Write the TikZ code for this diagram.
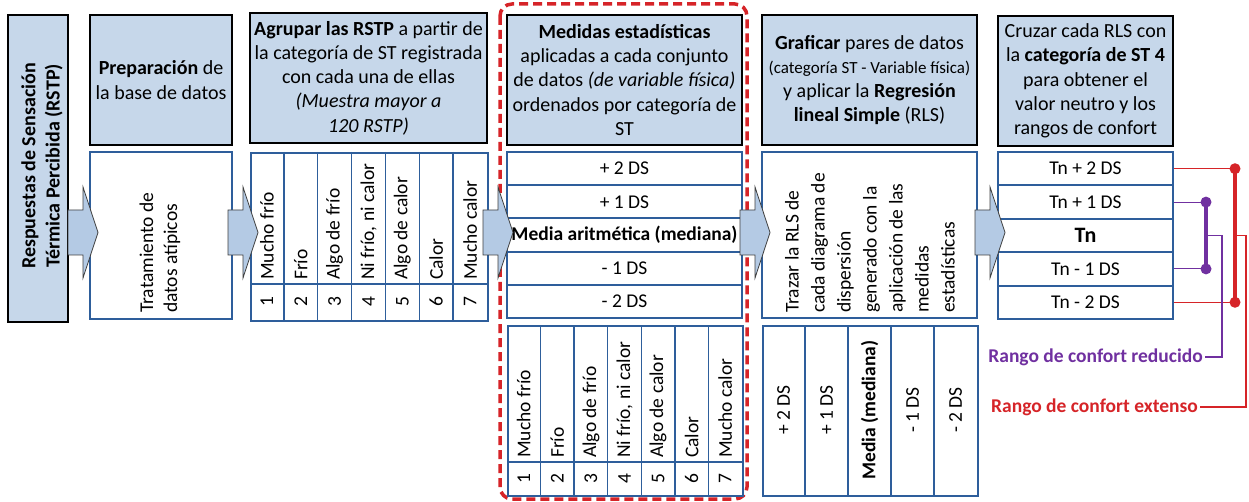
\documentclass[tikz,border=0pt]{standalone}
\usepackage{fontspec}
\setmainfont{Carlito}
\usetikzlibrary{calc}
\definecolor{hdrblue}{RGB}{198,215,234}
\definecolor{tblue}{RGB}{46,94,155}
\definecolor{dred}{RGB}{214,36,40}
\definecolor{cpurple}{RGB}{112,48,160}
\definecolor{arrowfill}{RGB}{180,202,228}
\newcommand\mainfs{\fontsize{19.5}{24}\selectfont}
\newcommand\hdrfs{\fontsize{20}{24.3}\selectfont}
\tikzset{
  hdr/.style={draw=black, line width=2.6pt, fill=hdrblue},
  tbox/.style={draw=tblue, line width=2pt, fill=white},
  tline/.style={draw=tblue, line width=1.4pt},
  txt/.style={font=\mainfs, align=center, inner sep=0pt},
  htxt/.style={font=\hdrfs, align=center, inner sep=0pt},
  vtxt/.style={font=\mainfs, rotate=90, anchor=west, inner sep=0pt, align=left},
  blockarr/.style={draw=black!75, line width=0.8pt, fill=arrowfill},
  reddash/.style={draw=dred, line width=3.5pt, dash pattern=on 9pt off 5pt, rounded corners=12pt},
  redthin/.style={draw=dred, line width=1.2pt},
  redthick/.style={draw=dred, line width=4pt},
  purthin/.style={draw=cpurple, line width=1.1pt},
  purthick/.style={draw=cpurple, line width=4pt},
}
\begin{document}
\begin{tikzpicture}[x=1pt,y=-1pt]
\useasboundingbox (0,0) rectangle (1249,502);
\fill[white] (0,0) rectangle (1249,502);

% red dashed frame
\draw[reddash] (500,4) rectangle (747,499);

% column 1
\node[hdr, minimum width=60, minimum height=307] (c1) at (38,168.5) {};
\node[txt, rotate=90, font=\hdrfs\bfseries] (c1t) at (42,166) {Respuestas de Sensación\\Térmica Percibida (RSTP)};

% column 2
\node[hdr, htxt, minimum width=142, minimum height=130] (c2h) at (161,80) {\textbf{Preparación} de\\la base de datos};
\node[tbox, minimum width=142, minimum height=167] (c2b) at (161,235.5) {};
\node[vtxt] (c2bt) at (160,313) {Tratamiento de\\datos atípicos};

% column 3
\node[hdr, htxt, minimum width=237, minimum height=130] (c3h) at (368.5,78)
  {\textbf{Agrupar las RSTP} a partir de\\la categoría de ST registrada\\con cada una de ellas\\\textit{(Muestra mayor a}\\\textit{120 RSTP)}};
\node[tbox, minimum width=237, minimum height=168, anchor=north west] (c3t) at (250,152) {};
\foreach \i in {1,...,6} \draw[tline] (250+\i*33.857,152) -- (250+\i*33.857,320);
\draw[tline] (250,284) -- (487,284);
\foreach \lab [count=\i] in {Mucho frío, Frío, Algo de frío, {Ni frío, ni calor}, Algo de calor, Calor, Mucho calor}{
  \node[vtxt] (c3a\i) at (250+\i*33.857-16.93,280) {\lab};
  \node[txt, rotate=90] (c3n\i) at (250+\i*33.857-16.93,302) {\i};
}

% column 4
\node[hdr, htxt, minimum width=235, minimum height=130] (c4h) at (624.5,80)
  {\textbf{Medidas estadísticas}\\aplicadas a cada conjunto\\de datos \textit{(de variable física)}\\ordenados por categoría de\\ST};
\foreach \lab [count=\i] in {+ 2 DS, + 1 DS, \textbf{Media aritmética (mediana)}, - 1 DS, - 2 DS}{
  \node[tbox, txt, minimum width=235, minimum height=33.2] (r4\i) at (624.5,152+\i*33.2-16.6) {\lab};
}
\node[tbox, minimum width=235, minimum height=170, anchor=north west] (c4t) at (507,325) {};
\foreach \i in {1,...,6} \draw[tline] (507+\i*33.571,325) -- (507+\i*33.571,495);
\draw[tline] (507,462) -- (742,462);
\foreach \lab [count=\i] in {Mucho frío, Frío, Algo de frío, {Ni frío, ni calor}, Algo de calor, Calor, Mucho calor}{
  \node[vtxt] (c4a\i) at (507+\i*33.571-16.79,458) {\lab};
  \node[txt, rotate=90] (c4n\i) at (507+\i*33.571-16.79,479) {\i};
}

% column 5
\node[hdr, htxt, minimum width=215, minimum height=130] (c5h) at (869.5,80)
  {\textbf{Graficar} pares de datos\\{\fontsize{17}{24}\selectfont(categoría ST - Variable física)}\\y aplicar la \textbf{Regresión}\\\textbf{lineal Simple} (RLS)};
\node[tbox, minimum width=215, minimum height=166] (c5m) at (869.5,235) {};
\node[vtxt, font=\fontsize{19.5}{26}\selectfont] (c5mt) at (870,313)
  {Trazar la RLS de\\cada diagrama de\\dispersión\\generado con la\\aplicación de las\\medidas\\estadísticas};
\node[tbox, minimum width=215, minimum height=170, anchor=north west] (c5t) at (762,325) {};
\foreach \i in {1,...,4} \draw[tline] (762+\i*43,325) -- (762+\i*43,495);
\foreach \lab [count=\i] in {+ 2 DS, + 1 DS, \textbf{Media (mediana)}, - 1 DS, - 2 DS}{
  \node[txt, rotate=90] (c5a\i) at (762+\i*43-21.5,410) {\lab};
}

% column 6
\node[hdr, htxt, minimum width=175, minimum height=130] (c6h) at (1085.5,81)
  {Cruzar cada RLS con\\la \textbf{categoría de ST 4}\\para obtener el\\valor neutro y los\\rangos de confort};
\foreach \lab [count=\i] in {Tn + 2 DS, Tn + 1 DS, {\fontsize{22}{24}\selectfont\bfseries Tn}, Tn - 1 DS, Tn - 2 DS}{
  \node[tbox, txt, minimum width=175, minimum height=33.4] (r6\i) at (1085.5,152+\i*33.4-16.7) {\lab};
}

% block arrows
\foreach \s/\n in {68/a1, 228/a2, 483/a3, 740/a4, 975/a5}{
  \draw[blockarr] (\s,210) -- (\s+15,210) -- (\s+15,187) -- (\s+30,232.5) -- (\s+15,278) -- (\s+15,255) -- (\s,255) -- cycle;
}

% comfort range connectors
\coordinate (rx) at (1235,0);
\coordinate (px) at (1206,0);
\node[txt, anchor=east, inner sep=2pt, text=cpurple, font=\mainfs\bfseries] (red) at (1205,357) {Rango de confort reducido};
\node[txt, anchor=east, inner sep=2pt, text=dred, font=\mainfs\bfseries] (ext) at (1200,407) {Rango de confort extenso};

\draw[redthin] (r61.east) -- (r61.east -| rx) coordinate (rd1);
\draw[redthin] (r65.east) -- (r65.east -| rx) coordinate (rd2);
\draw[redthick] (rd1) -- (rd2);
\fill[dred] (rd1) circle (5.5);
\fill[dred] (rd2) circle (5.5);
\draw[redthin] ($(rd1)!0.5!(rd2)$) -- ++(11,0) |- (ext.east);

\draw[purthin] (r62.east) -- (r62.east -| px) coordinate (pd1);
\draw[purthin] (r64.east) -- (r64.east -| px) coordinate (pd2);
\draw[purthick] (pd1) -- (pd2);
\fill[cpurple] (pd1) circle (5.5);
\fill[cpurple] (pd2) circle (5.5);
\draw[purthin] ($(pd1)!0.5!(pd2)$) -- ++(16,0) |- (red.east);
\end{tikzpicture}
\end{document}
